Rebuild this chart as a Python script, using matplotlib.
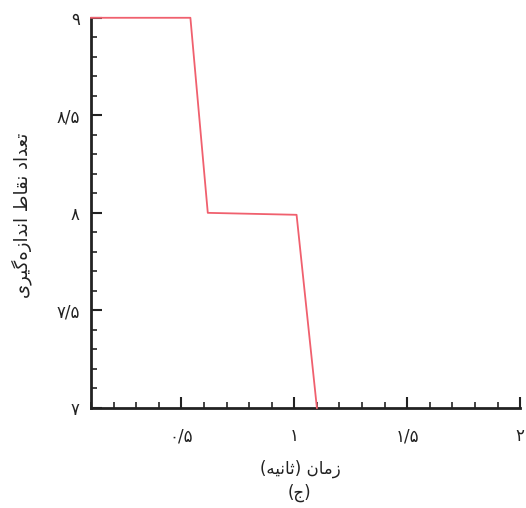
import matplotlib.pyplot as plt
from matplotlib.ticker import MultipleLocator, FixedLocator, FixedFormatter

# step curve (time in s, count)
time_s = [0.1, 0.54, 0.617, 1.01, 1.1]
count = [9.0, 9.0, 8.0, 7.99, 7.0]

x_ticks = [0.5, 1.0, 1.5, 2.0]
x_labels = ["\u06f0/\u06f5", "\u06f1", "\u06f1/\u06f5", "\u06f2"]
y_ticks = [7.0, 7.5, 8.0, 8.5, 9.0]
y_labels = ["\u06f7", "\u06f7/\u06f5", "\u06f8", "\u06f8/\u06f5", "\u06f9"]

# Persian labels in visual (left-to-right) order with presentation forms
xlabel = "(\ufeea\ufef4\ufee7\ufe8e\ufe9b) \ufee5\ufe8e\ufee3\ufeaf"
sublabel = "(\ufe9d)"
ylabel = ("\ufeef\ufeae\ufef4\ufb94\ufee9\ufeaf\ufe8d\ufeaa\ufee7\ufe8d"
          " \ufec1\ufe8e\ufed8\ufee7"
          " \ufea9\ufe8d\ufeaa\ufecc\ufe97")

plt.rcParams['font.family'] = ['DejaVu Sans']

fig = plt.figure(figsize=(5.26, 5.08), dpi=100)
ax = fig.add_axes([0.173, 0.197, 0.816, 0.768])

ax.plot(time_s, count, color='#f0606e', lw=1.3, clip_on=False, zorder=3)

ax.set_xlim(0.1, 2.0)
ax.set_ylim(7.0, 9.0)

ax.xaxis.set_major_locator(FixedLocator(x_ticks))
ax.xaxis.set_major_formatter(FixedFormatter(x_labels))
ax.yaxis.set_major_locator(FixedLocator(y_ticks))
ax.yaxis.set_major_formatter(FixedFormatter(y_labels))
ax.xaxis.set_minor_locator(MultipleLocator(0.1))
ax.yaxis.set_minor_locator(MultipleLocator(0.1))

for s in ['top', 'right']:
    ax.spines[s].set_visible(False)
for s in ['left', 'bottom']:
    ax.spines[s].set_linewidth(2)
    ax.spines[s].set_color('#222222')

ax.tick_params(which='major', direction='in', length=8, width=1.5, color='#222222')
ax.tick_params(which='minor', direction='in', length=4, width=1.2, color='#222222')
ax.tick_params(axis='x', which='major', pad=14, labelsize=12, labelcolor='#222222')
ax.tick_params(axis='y', which='major', pad=8, labelsize=12, labelcolor='#222222')

fig.text(0.572, 0.078, xlabel, ha='center', va='center', fontsize=12, color='#222222')
fig.text(0.570, 0.030, sublabel, ha='center', va='center', fontsize=12, color='#222222')
fig.text(0.042, 0.577, ylabel, ha='center', va='center', rotation=90, fontsize=13, color='#222222')

fig.savefig('out.png', dpi=100)
